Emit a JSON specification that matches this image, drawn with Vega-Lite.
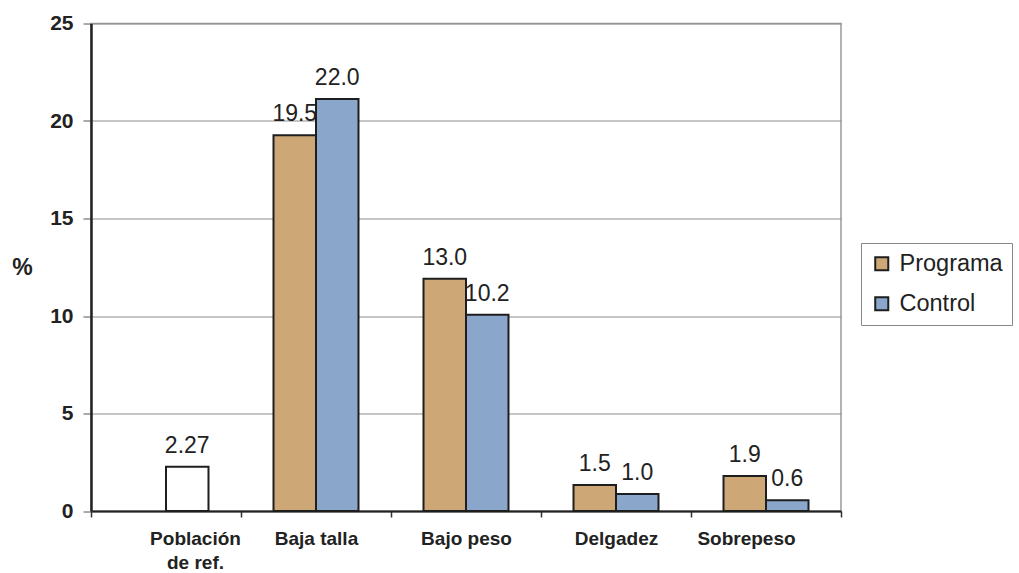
{
  "$schema": "https://vega.github.io/schema/vega-lite/v6.json",
  "autosize": "none",
  "width": 750,
  "height": 487.5,
  "padding": {"left": 91, "top": 23.5, "right": 178, "bottom": 62},
  "background": "white",
  "config": {
    "font": "Liberation Sans",
    "view": {"stroke": "#9a9a9a", "strokeWidth": 1.5}
  },
  "data": {
    "values": [
      {"categoria": "Población de ref.", "serie": "Referencia", "valor": 2.27, "etiqueta": "2.27"},
      {"categoria": "Baja talla", "serie": "Programa", "valor": 19.27, "etiqueta": "19.5"},
      {"categoria": "Baja talla", "serie": "Control", "valor": 21.13, "etiqueta": "22.0"},
      {"categoria": "Bajo peso", "serie": "Programa", "valor": 11.91, "etiqueta": "13.0"},
      {"categoria": "Bajo peso", "serie": "Control", "valor": 10.06, "etiqueta": "10.2"},
      {"categoria": "Delgadez", "serie": "Programa", "valor": 1.33, "etiqueta": "1.5"},
      {"categoria": "Delgadez", "serie": "Control", "valor": 0.87, "etiqueta": "1.0"},
      {"categoria": "Sobrepeso", "serie": "Programa", "valor": 1.8, "etiqueta": "1.9"},
      {"categoria": "Sobrepeso", "serie": "Control", "valor": 0.55, "etiqueta": "0.6"}
    ]
  },
  "transform": [
    {"calculate": "datum.serie === 'Programa' ? 'Programa' : 'Control'", "as": "posicion"}
  ],
  "encoding": {
    "x": {
      "field": "categoria",
      "type": "nominal",
      "sort": ["Población de ref.", "Baja talla", "Bajo peso", "Delgadez", "Sobrepeso"],
      "scale": {"paddingInner": 0, "paddingOuter": 0},
      "axis": {
        "title": null,
        "labelAngle": 0,
        "labelFont": "Liberation Sans",
        "labelFontSize": 19,
        "labelFontWeight": "bold",
        "labelColor": "#222222",
        "labelPadding": 12,
        "labelBaseline": "top",
        "labelLineHeight": 24,
        "labelExpr": "datum.value === 'Población de ref.' ? ['Población', 'de ref.'] : datum.label",
        "labelOffset": {
          "condition": [
            {"test": "datum.value === 'Población de ref.'", "value": 29},
            {"test": "datum.value === 'Sobrepeso'", "value": -20}
          ],
          "value": 0
        },
        "tickBand": "extent",
        "tickSize": 6,
        "tickWidth": 1.5,
        "tickColor": "#333333",
        "domainColor": "#222222",
        "domainWidth": 2,
        "grid": false
      }
    },
    "xOffset": {
      "field": "posicion",
      "type": "nominal",
      "scale": {"domain": ["Programa", "Control"], "paddingInner": 0, "paddingOuter": 0.765}
    },
    "y": {
      "field": "valor",
      "type": "quantitative",
      "scale": {"domain": [0, 25], "nice": false},
      "axis": {
        "values": [0, 5, 10, 15, 20, 25],
        "title": "%",
        "titleAngle": 0,
        "titleFont": "Liberation Sans",
        "titleFontSize": 23,
        "titleFontWeight": "bold",
        "titleColor": "#222222",
        "titleX": -69,
        "titleY": 244,
        "titleAlign": "center",
        "titleBaseline": "middle",
        "labelFont": "Liberation Sans",
        "labelFontSize": 21,
        "labelFontWeight": "bold",
        "labelColor": "#222222",
        "labelPadding": 10,
        "tickSize": 8,
        "tickWidth": 1,
        "tickColor": "#555555",
        "domainColor": "#222222",
        "domainWidth": 2.5,
        "grid": true,
        "gridColor": "#8c8c8c",
        "gridWidth": 1
      }
    }
  },
  "layer": [
    {
      "mark": {"type": "bar", "stroke": "#1e1e1e", "strokeWidth": 2},
      "encoding": {
        "color": {
          "field": "serie",
          "type": "nominal",
          "scale": {"domain": ["Programa", "Control", "Referencia"], "range": ["#CDA775", "#8AA6CB", "#FFFFFF"]},
          "legend": {
            "values": ["Programa", "Control"],
            "title": null,
            "orient": "none",
            "legendX": 770,
            "legendY": 219.5,
            "symbolType": "square",
            "symbolSize": 170,
            "symbolStrokeColor": "#1e1e1e",
            "symbolStrokeWidth": 2,
            "labelFont": "Liberation Sans",
            "labelFontSize": 23.5,
            "labelColor": "#222222",
            "labelOffset": 6,
            "rowPadding": 15,
            "padding": 9,
            "strokeColor": "#888888"
          }
        }
      }
    },
    {
      "mark": {"type": "text", "font": "Liberation Sans", "fontSize": 23, "color": "#222222", "baseline": "alphabetic", "align": "center", "dy": -14},
      "encoding": {
        "text": {"field": "etiqueta", "type": "nominal"}
      }
    }
  ]
}
